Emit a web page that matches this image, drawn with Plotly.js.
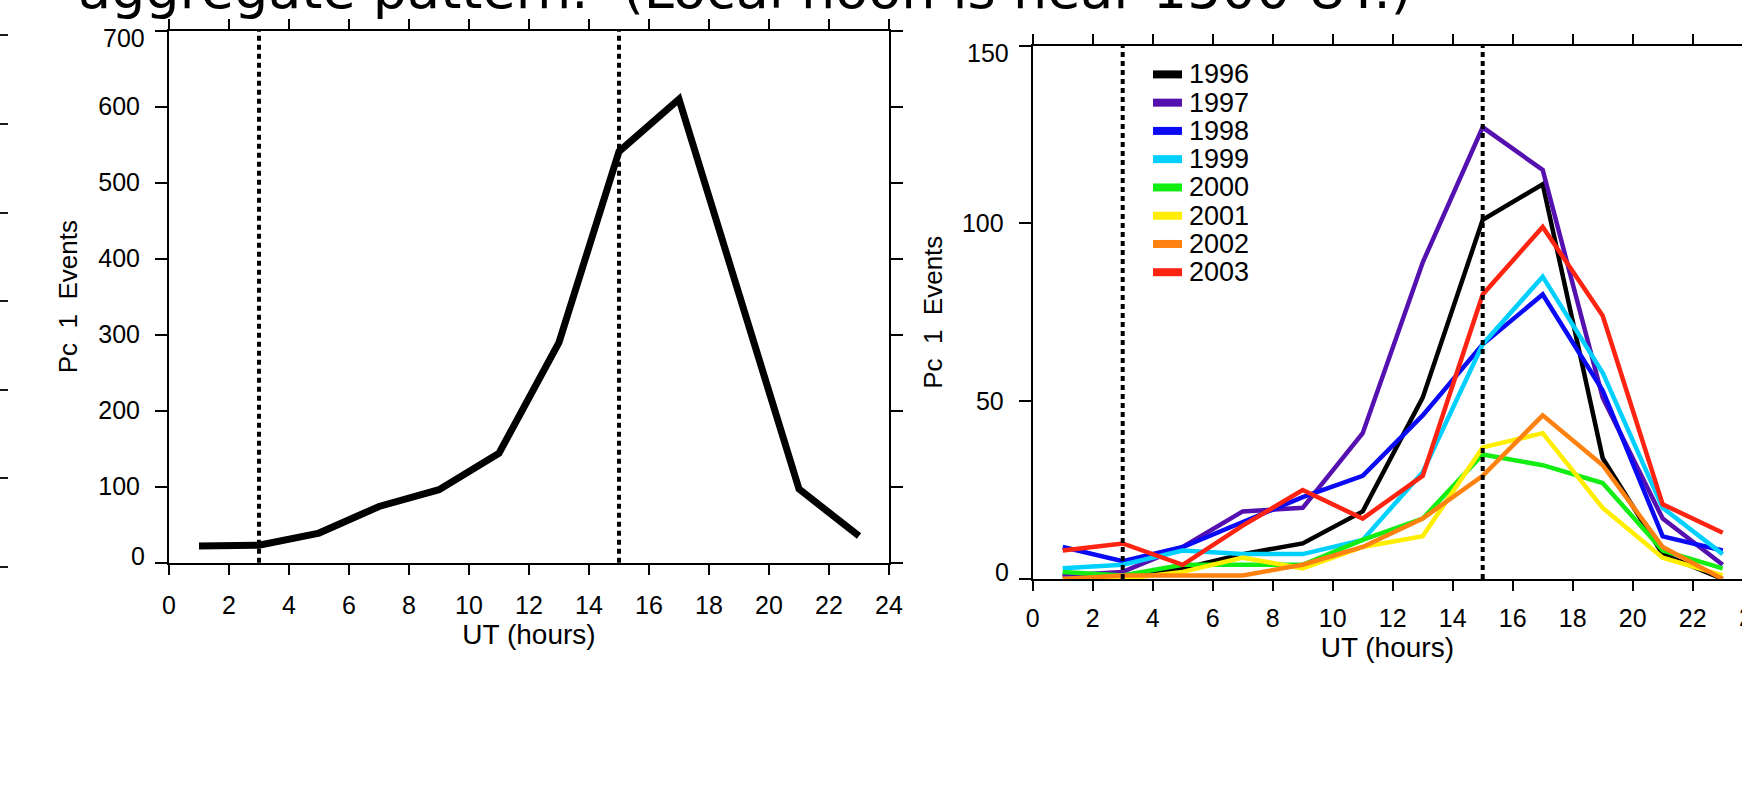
<!DOCTYPE html>
<html>
<head>
<meta charset="utf-8">
<script src="https://cdn.plot.ly/plotly-3.0.1.min.js"></script>
<style>
  html, body { margin: 0; padding: 0; background: #ffffff; }
  #chart { width: 1742px; height: 803px; }
</style>
</head>
<body>
<div id="chart"></div>
<script>
// Hourly Pc 1 event counts, binned in 2-hour UT bins (bin centres)
const hours = [1, 3, 5, 7, 9, 11, 13, 15, 17, 19, 21, 23];

// All years combined
const totalEvents = [22, 23, 39, 74, 96, 144, 290, 541, 610, 350, 97, 35];

// Per-year counts
const years = ['1996', '1997', '1998', '1999', '2000', '2001', '2002', '2003'];
const ev1996 = [1, 1, 3, 7, 10, 19, 51, 101, 111, 34, 7, 0];
const ev1997 = [1, 2, 9, 19, 20, 41, 89, 127, 115, 51, 17, 4];
const ev1998 = [9, 5, 9, 16, 23, 29, 46, 66, 80, 53, 12, 8];
const ev1999 = [3, 4, 8, 7, 7, 11, 30, 66, 85, 58, 20, 7];
const ev2000 = [2, 1, 4, 4, 4, 11, 17, 35, 32, 27, 8, 3];
const ev2001 = [0, 0, 2, 6, 3, 9, 12, 37, 41, 20, 6, 1];
const ev2002 = [0, 1, 1, 1, 4, 9, 17, 29, 46, 32, 9, 0];
const ev2003 = [8, 10, 4, 15, 25, 17, 29, 80, 99, 74, 21, 13];
const yearSeries = [ev1996, ev1997, ev1998, ev1999, ev2000, ev2001, ev2002, ev2003];
const yearColors = ['#000000', '#5510b0', '#0a0af5', '#00d0ff', '#12ee12', '#ffee00', '#ff8210', '#ff2412'];

// Reference hours marked with dotted lines
const markerHours = [3, 15];

// Tick values
const xTicks = [0, 2, 4, 6, 8, 10, 12, 14, 16, 18, 20, 22, 24];
const leftYTicks = [0, 100, 200, 300, 400, 500, 600, 700];
const rightYTicks = [0, 50, 100, 150];

const W = 1742, H = 803;
const px = v => v / W;          // horizontal pixel -> paper
const py = v => 1 - v / H;      // vertical pixel (from top) -> paper
const LABEL_FONT = 'Liberation Sans, Arial, sans-serif';
const TEXT_FONT = 'DejaVu Sans, Verdana, sans-serif';

const rightXMax = (W - 1032.7) / 30;   // right panel runs off the page edge

const traces = [];

traces.push({
  x: hours, y: totalEvents, type: 'scatter', mode: 'lines',
  xaxis: 'x', yaxis: 'y', showlegend: false,
  line: { color: '#000000', width: 7 }
});

years.forEach((yr, i) => {
  traces.push({
    x: hours, y: yearSeries[i], type: 'scatter', mode: 'lines',
    name: yr, xaxis: 'x2', yaxis: 'y2', showlegend: false,
    line: { color: yearColors[i], width: 4.5 }
  });
});

// Frame ticks of the neighbouring panel along the left page edge
traces.push({ x: [], y: [], xaxis: 'x3', yaxis: 'y3', showlegend: false, hoverinfo: 'skip' });

const axisCommon = {
  showline: true, linecolor: '#000000', linewidth: 2, mirror: 'ticks',
  ticks: 'outside', tickcolor: '#000000', tickwidth: 2,
  showgrid: false, zeroline: false, fixedrange: true,
  tickfont: { family: LABEL_FONT, size: 25, color: '#000000' }
};

function labelsWithoutEnds(vals) {
  return vals.map((v, i) => (i === 0 || i === vals.length - 1) ? '' : String(v));
}

const titleFont = { family: LABEL_FONT, size: 26, color: '#000000' };
const xTitleFont = { family: LABEL_FONT, size: 28, color: '#000000' };

const layout = {
  width: W, height: H,
  margin: { l: 0, r: 0, t: 0, b: 0, pad: 0 },
  paper_bgcolor: '#ffffff', plot_bgcolor: '#ffffff',
  font: { family: LABEL_FONT, color: '#000000' },
  showlegend: false,
  xaxis: Object.assign({}, axisCommon, {
    domain: [px(169), px(889)], range: [0, 24], anchor: 'y',
    tickvals: xTicks, ticklen: 10, ticklabelstandoff: 9,
    title: { text: 'UT (hours)', font: xTitleFont, standoff: 3 }
  }),
  yaxis: Object.assign({}, axisCommon, {
    domain: [py(562.7), py(30.7)], range: [0, 700], anchor: 'x',
    tickvals: leftYTicks, ticktext: labelsWithoutEnds(leftYTicks),
    ticklen: 12, ticklabelstandoff: 10,
    title: { text: 'Pc  1  Events', font: titleFont, standoff: 13 }
  }),
  xaxis2: Object.assign({}, axisCommon, {
    domain: [px(1032.7), 1], range: [0, rightXMax], anchor: 'y2',
    tickvals: xTicks, ticklen: 10, ticklabelstandoff: 6,
    title: { text: 'UT (hours)', font: xTitleFont, standoff: 6 }
  }),
  yaxis2: Object.assign({}, axisCommon, {
    domain: [py(579), py(45.5)], range: [0, 150], anchor: 'x2',
    tickvals: rightYTicks, ticktext: labelsWithoutEnds(rightYTicks),
    ticklen: 12, ticklabelstandoff: 10,
    title: { text: 'Pc  1  Events', font: titleFont, standoff: 12 }
  }),
  xaxis3: { domain: [0, 0.004], range: [0, 1], visible: false, anchor: 'y3', fixedrange: true },
  yaxis3: {
    domain: [py(566.8 + 26.6), py(35.4 - 26.6)], range: [-0.3, 6.3], anchor: 'x3',
    tickvals: [0, 1, 2, 3, 4, 5, 6], ticks: 'inside', ticklen: 8, tickwidth: 2,
    tickcolor: '#1a1a1a', showline: false, showticklabels: false,
    showgrid: false, zeroline: false, fixedrange: true
  },
  shapes: [],
  annotations: [
    {
      text: 'aggregate pattern.  (Local noon is near 1500 UT.)',
      xref: 'paper', yref: 'paper', x: px(76), y: py(-10),
      xanchor: 'left', yanchor: 'middle', showarrow: false,
      font: { family: TEXT_FONT, size: 54, color: '#000000' }
    },
    {
      // last hour label of the right panel, falling at the page edge
      text: String(xTicks[xTicks.length - 1]), xref: 'x2 domain', yref: 'y2 domain',
      x: xTicks[xTicks.length - 1] / rightXMax, y: 0, xanchor: 'center', yanchor: 'middle',
      yshift: -38, showarrow: false, font: { family: LABEL_FONT, size: 25, color: '#000000' }
    }
  ]
};

// Dotted reference lines in both panels
markerHours.forEach(h => {
  [['x', 'y domain'], ['x2', 'y2 domain']].forEach(([xr, yr]) => {
    layout.shapes.push({
      type: 'line', xref: xr, yref: yr, x0: h, x1: h, y0: 0, y1: 1,
      line: { color: '#000000', width: 4, dash: '5px,4px' }, layer: 'above'
    });
  });
});

// End labels of the y axes sit slightly inside the frame
[['y', leftYTicks], ['y2', rightYTicks]].forEach(([yr, vals]) => {
  const xr = yr === 'y' ? 'x domain' : 'x2 domain';
  const first = vals[0], last = vals[vals.length - 1];
  [[first, 7], [last, -7]].forEach(([v, shift]) => {
    layout.annotations.push({
      text: String(v), xref: xr, yref: yr, x: 0, y: v,
      xanchor: 'right', yanchor: 'middle', xshift: -22, yshift: shift,
      showarrow: false, font: { family: LABEL_FONT, size: 25, color: '#000000' }
    });
  });
});

// Year key in the right panel: colour bar + label
const keyTop = 74.4, keyStep = 28.26;
years.forEach((yr, i) => {
  const yk = py(keyTop + keyStep * i);
  layout.shapes.push({
    type: 'line', xref: 'paper', yref: 'paper',
    x0: px(1153), x1: px(1182), y0: yk, y1: yk,
    line: { color: yearColors[i], width: 8 }, layer: 'above'
  });
  layout.annotations.push({
    text: yr, xref: 'paper', yref: 'paper', x: px(1187), y: yk,
    xanchor: 'left', yanchor: 'middle', showarrow: false,
    font: { family: LABEL_FONT, size: 27, color: '#000000' }
  });
});

Plotly.newPlot('chart', traces, layout, { displayModeBar: false, staticPlot: true });
</script>
</body>
</html>
